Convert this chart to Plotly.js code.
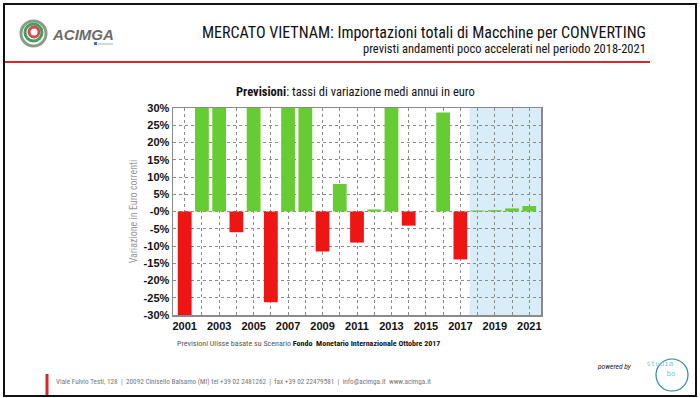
<!DOCTYPE html>
<html><head><meta charset="utf-8">
<script src="https://cdn.plot.ly/plotly-3.0.1.min.js"></script>
<style>html,body{margin:0;padding:0;background:#fff}#c{width:700px;height:398px}</style>
</head><body><div id="c"></div>
<script>
const years = [2001,2002,2003,2004,2005,2006,2007,2008,2009,2010,2011,2012,2013,2014,2015,2016,2017,2018,2019,2020,2021];
const values = [-35, 35, 35, -6, 35, -26.3, 35, 35, -11.6, 8, -9, 0.6, 35, -4.1, 0, 28.7, -13.9, 0.3, 0.4, 0.9, 1.6];
const yTickVals = [30,25,20,15,10,5,0,-5,-10,-15,-20,-25,-30];
const yTickText = ['30%','25%','20%','15%','10%','5%','-0%','-5%','-10%','-15%','-20%','-25%','-30%'];
const xTickText = years.map(y => (y % 2 === 1) ? String(y) : '');
const forecastStart = 2017.54;

const L=173, R=541, T=108, B=315;
const px = x => (x - L) / (R - L);
const py = y => (B - y) / (B - T);
const narrow = '"Liberation Sans Narrow", "Roboto Condensed", Roboto, sans-serif';

const colors = values.map(v => v >= 0 ? '#66cc33' : '#ee1515');

const trace = {
  type: 'bar', x: years, y: values, width: 0.8,
  marker: {color: colors, line: {width: 0}},
  hoverinfo: 'x+y', cliponaxis: true
};

const shapes = [
  {type:'rect', xref:'x', yref:'paper', x0: forecastStart, x1: 2021.68, y0:0, y1:1, fillcolor:'#d8edf7', line:{width:0}, layer:'below'},
  {type:'rect', xref:'paper', yref:'paper', x0:px(4), x1:px(696), y0:py(4), y1:py(396), line:{color:'#111', width:2}, fillcolor:'rgba(0,0,0,0)'},
  {type:'line', xref:'paper', yref:'paper', x0:px(5), x1:px(650), y0:py(62), y1:py(62), line:{color:'#d9262b', width:2}},
  {type:'line', xref:'paper', yref:'paper', x0:px(47), x1:px(47), y0:py(374), y1:py(395), line:{color:'#d9262b', width:3}},
  {type:'circle', xref:'paper', yref:'paper', x0:px(21), x1:px(46), y0:py(21), y1:py(46), line:{color:'#8c9a8c', width:3}, fillcolor:'rgba(0,0,0,0)'},
  {type:'circle', xref:'paper', yref:'paper', x0:px(25), x1:px(42), y0:py(24), y1:py(41), line:{color:'#3aa35a', width:3}, fillcolor:'rgba(0,0,0,0)'},
  {type:'circle', xref:'paper', yref:'paper', x0:px(29), x1:px(39), y0:py(27), y1:py(37), line:{color:'#e0474c', width:3}, fillcolor:'rgba(0,0,0,0)'},
  {type:'rect', xref:'paper', yref:'paper', x0:px(94), x1:px(97), y0:py(42), y1:py(45), fillcolor:'#3f6fb5', line:{width:0}},
  {type:'line', xref:'paper', yref:'paper', x0:px(98), x1:px(113), y0:py(44), y1:py(44), line:{color:'#9ab0d0', width:1}},
  {type:'circle', xref:'paper', yref:'paper', x0:px(656), x1:px(688), y0:py(359), y1:py(391), line:{color:'#2a8a9a', width:1.2}, fillcolor:'rgba(0,0,0,0)'}
];

const annotations = [
  {xref:'paper', yref:'paper', x:px(648), y:py(33), xanchor:'right', yanchor:'middle', showarrow:false,
   text:'MERCATO VIETNAM: Importazioni totali di Macchine per CONVERTING', font:{family:narrow, size:16, color:'#111'}},
  {xref:'paper', yref:'paper', x:px(648), y:py(48), xanchor:'right', yanchor:'middle', showarrow:false,
   text:'previsti andamenti poco accelerati nel periodo 2018-2021', font:{family:narrow, size:12.5, color:'#111'}},
  {xref:'paper', yref:'paper', x:px(355), y:py(91), xanchor:'center', yanchor:'middle', showarrow:false,
   text:'<b>Previsioni</b>: tassi di variazione medi annui in euro', font:{family:narrow, size:12.5, color:'#111'}},
  {xref:'paper', yref:'paper', x:px(175), y:py(343), xanchor:'left', yanchor:'middle', showarrow:false,
   text:'<span style="color:#555">Previsioni Ulisse basate su Scenario </span><b>Fondo  Monetario Internazionale Ottobre 2017</b>', font:{family:narrow, size:8, color:'#111'}},
  {xref:'paper', yref:'paper', x:px(50), y:py(34), xanchor:'left', yanchor:'middle', showarrow:false,
   text:'<i>ACIMGA</i>', font:{family:'Liberation Sans, Arial, sans-serif', size:15, color:'#6b6b6b', weight:'bold'}},
  {xref:'paper', yref:'paper', x:px(54), y:py(381), xanchor:'left', yanchor:'middle', showarrow:false,
   text:'Viale Fulvio Testi, 128  |  20092 Cinisello Balsamo (MI) tel +39 02 2481262  |  fax +39 02 22479581  |  info@acimga.it  www.acimga.it',
   font:{family:narrow, size:7.2, color:'#777'}},
  {xref:'paper', yref:'paper', x:px(634), y:py(366), xanchor:'right', yanchor:'middle', showarrow:false,
   text:'<i>powered by</i>', font:{family:narrow, size:7.5, color:'#222'}},
  {xref:'paper', yref:'paper', x:px(642), y:py(368), xanchor:'left', yanchor:'middle', showarrow:false,
   text:'studia<br>     bo', font:{family:'DejaVu Sans Mono, monospace', size:7.5, color:'#7fc9d6'}}
];

const layout = {
  width:700, height:398,
  margin:{l:L, r:700-R, t:T, b:398-B, pad:0},
  paper_bgcolor:'#fff', plot_bgcolor:'#fff',
  showlegend:false, bargap:0.2,
  xaxis:{
    range:[2000.32, 2021.68], tickmode:'array', tickvals:years, ticktext:xTickText,
    showgrid:true, gridcolor:'#8a8a8a', griddash:'dot', gridwidth:1,
    showline:true, linecolor:'#8a8a8a', linewidth:1.5, mirror:true,
    ticks:'', tickfont:{family:'Liberation Sans, Arial, sans-serif', size:11, color:'#111', weight:'bold'},
    fixedrange:true
  },
  yaxis:{
    range:[-30,30], tickmode:'array', tickvals:yTickVals, ticktext:yTickText,
    showgrid:true, gridcolor:'#8a8a8a', griddash:'dot', gridwidth:1, zeroline:false,
    showline:true, linecolor:'#8a8a8a', linewidth:1.5, mirror:true,
    ticks:'', tickfont:{family:'Liberation Sans, Arial, sans-serif', size:11, color:'#111', weight:'bold'},
    title:{text:'Variazione in Euro correnti', font:{family:narrow, size:10, color:'#999'}, standoff:4},
    fixedrange:true
  },
  shapes:shapes, annotations:annotations
};

Plotly.newPlot('c', [trace], layout, {displayModeBar:false, staticPlot:true});
</script></body></html>
